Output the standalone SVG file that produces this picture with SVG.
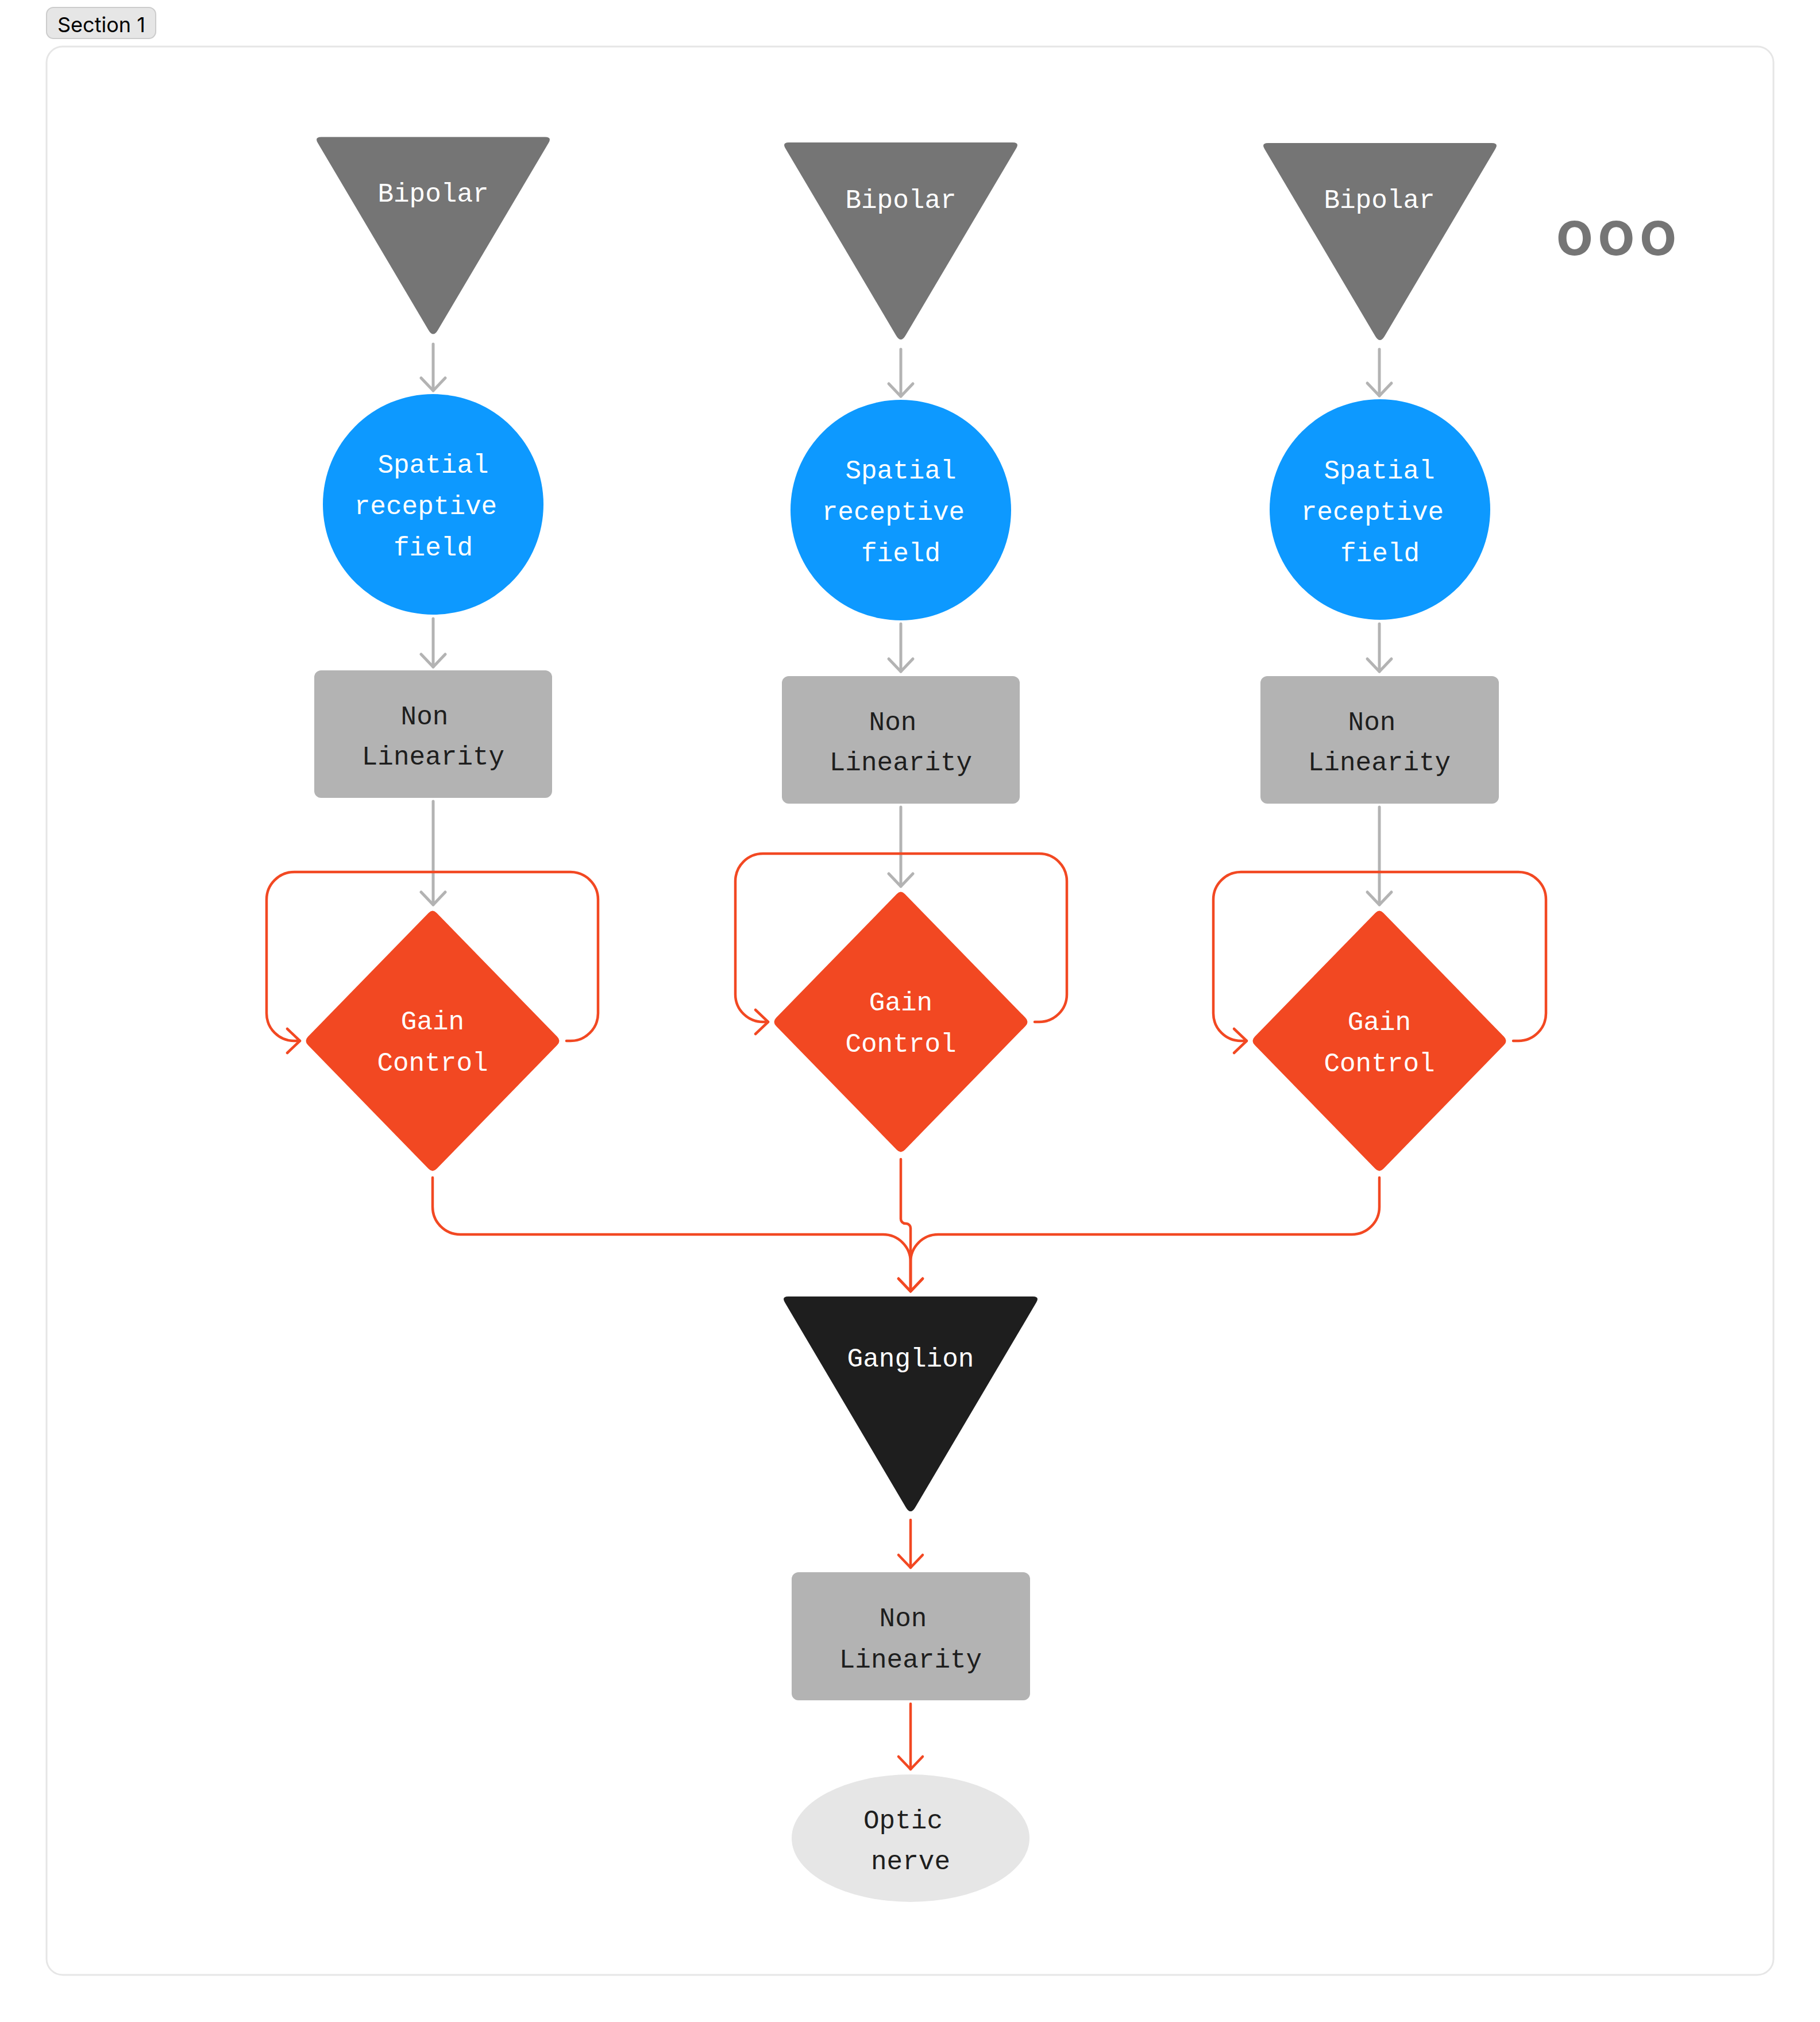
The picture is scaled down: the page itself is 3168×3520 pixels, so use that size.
<svg xmlns="http://www.w3.org/2000/svg" width="3168" height="3520" viewBox="0 0 3168 3520">
<style>
.lbl{font-family:"Liberation Mono","DejaVu Sans Mono",monospace;font-size:46px;text-anchor:middle}
.w{fill:#ffffff}
.d{fill:#1e1e1e}
.gline{fill:none;stroke:#b3b3b3;stroke-width:5;stroke-linecap:round;stroke-linejoin:round}
.rline{fill:none;stroke:#f24822;stroke-width:4.5;stroke-linecap:round;stroke-linejoin:round}
.tri{fill:#757575}
.circ{fill:#0d99ff}
.box{fill:#b3b3b3}
.dia{fill:#f24822}
</style>
<defs>
<path id="triShape" d="M -195,0 H 195 Q 207,0 200.9,10.3 L 8.1,336.2 Q 0,350 -8.1,336.2 L -200.9,10.3 Q -207,0 -195,0 Z"/>
<path id="diaShape" d="M -7,-222.8 Q 0,-230 7,-222.8 L 217,-7.2 Q 224,0 217,7.2 L 7,222.8 Q 0,230 -7,222.8 L -217,7.2 Q -224,0 -217,-7.2 Z"/>
<marker id="ag" markerUnits="userSpaceOnUse" viewBox="-30 -30 60 60" refX="0" refY="0" markerWidth="60" markerHeight="60" orient="auto" overflow="visible">
<path d="M -22,-21 L 0,0 L -22,21" fill="none" stroke="#b3b3b3" stroke-width="5" stroke-linecap="round" stroke-linejoin="round"/>
</marker>
<marker id="ar" markerUnits="userSpaceOnUse" viewBox="-30 -30 60 60" refX="0" refY="0" markerWidth="60" markerHeight="60" orient="auto" overflow="visible">
<path d="M -22,-21 L 0,0 L -22,21" fill="none" stroke="#f24822" stroke-width="4.5" stroke-linecap="round" stroke-linejoin="round"/>
</marker>
</defs>
<rect width="3168" height="3520" fill="#ffffff"/>
<g id="section">
<rect x="81" y="81" width="3006" height="3357" rx="28" fill="#ffffff" stroke="#e6e6e6" stroke-width="3"/>
<rect x="81" y="13" width="190" height="54" rx="12" fill="#e6e6e6" stroke="#cccccc" stroke-width="2"/>
<text x="100" y="56" font-family="Inter,'Liberation Sans',sans-serif" font-size="36" fill="#000000">Section 1</text>
</g>
<g id="connectors">
<path class="gline" d="M754,599 V680" marker-end="url(#ag)"/>
<path class="gline" d="M754,1077 V1161" marker-end="url(#ag)"/>
<path class="gline" d="M754,1395 V1575" marker-end="url(#ag)"/>
<path class="gline" d="M1568,608 V690" marker-end="url(#ag)"/>
<path class="gline" d="M1568,1086 V1169" marker-end="url(#ag)"/>
<path class="gline" d="M1568,1405 V1543" marker-end="url(#ag)"/>
<path class="gline" d="M2401,608 V689" marker-end="url(#ag)"/>
<path class="gline" d="M2401,1086 V1169" marker-end="url(#ag)"/>
<path class="gline" d="M2401,1405 V1575" marker-end="url(#ag)"/>
<path class="rline" d="M986,1812 H993 A48,48 0 0 0 1041,1764 V1566 A48,48 0 0 0 993,1518 H512 A48,48 0 0 0 464,1566 V1764 A48,48 0 0 0 512,1812 H522" marker-end="url(#ar)"/>
<path class="rline" d="M1801,1779 H1809 A48,48 0 0 0 1857,1731 V1534 A48,48 0 0 0 1809,1486 H1328 A48,48 0 0 0 1280,1534 V1731 A48,48 0 0 0 1328,1779 H1337" marker-end="url(#ar)"/>
<path class="rline" d="M2634,1812 H2643 A48,48 0 0 0 2691,1764 V1566 A48,48 0 0 0 2643,1518 H2160 A48,48 0 0 0 2112,1566 V1764 A48,48 0 0 0 2160,1812 H2170" marker-end="url(#ar)"/>
<path class="rline" d="M753,2050 V2101 A48,48 0 0 0 801,2149 H1537 A48,48 0 0 1 1585,2197 V2248" marker-end="url(#ar)"/>
<path class="rline" d="M1568,2018 V2122 A8,8 0 0 0 1576,2130 H1577 A8,8 0 0 1 1585,2138 V2248" marker-end="url(#ar)"/>
<path class="rline" d="M2401,2050 V2101 A48,48 0 0 1 2353,2149 H1633 A48,48 0 0 0 1585,2197 V2248" marker-end="url(#ar)"/>
<path class="rline" d="M1585,2646 V2729" marker-end="url(#ar)"/>
<path class="rline" d="M1585,2966 V3080" marker-end="url(#ar)"/>
</g>
<g id="bipolar1">
<use href="#triShape" class="tri" transform="translate(754,238.5)"/>
<text class="lbl w" x="754" y="351">Bipolar</text>
</g>
<g id="bipolar2">
<use href="#triShape" class="tri" transform="translate(1568,248)"/>
<text class="lbl w" x="1568" y="362">Bipolar</text>
</g>
<g id="bipolar3">
<use href="#triShape" class="tri" transform="translate(2402,249)"/>
<text class="lbl w" x="2401" y="362">Bipolar</text>
</g>
<g id="ellipsis">
<text x="2708" y="444" font-family="Inter,'Liberation Sans',sans-serif" font-weight="600" font-size="108" fill="#757575" textLength="211" lengthAdjust="spacing">ooo</text>
</g>
<g id="spatial1">
<circle class="circ" cx="754" cy="878" r="192"/>
<text class="lbl w" x="754" y="823">Spatial</text>
<text class="lbl w" x="741" y="895">receptive</text>
<text class="lbl w" x="754" y="967">field</text>
</g>
<g id="spatial2">
<circle class="circ" cx="1568" cy="888" r="192"/>
<text class="lbl w" x="1568" y="833">Spatial</text>
<text class="lbl w" x="1555" y="905">receptive</text>
<text class="lbl w" x="1568" y="977">field</text>
</g>
<g id="spatial3">
<circle class="circ" cx="2402" cy="887" r="192"/>
<text class="lbl w" x="2401" y="833">Spatial</text>
<text class="lbl w" x="2389" y="905">receptive</text>
<text class="lbl w" x="2402" y="977">field</text>
</g>
<g id="nonlin1">
<rect class="box" x="547" y="1167" width="414" height="222" rx="12"/>
<text class="lbl d" x="739" y="1261">Non</text>
<text class="lbl d" x="754" y="1331">Linearity</text>
</g>
<g id="nonlin2">
<rect class="box" x="1361" y="1177" width="414" height="222" rx="12"/>
<text class="lbl d" x="1554" y="1271">Non</text>
<text class="lbl d" x="1568" y="1341">Linearity</text>
</g>
<g id="nonlin3">
<rect class="box" x="2194" y="1177" width="415" height="222" rx="12"/>
<text class="lbl d" x="2388" y="1271">Non</text>
<text class="lbl d" x="2401" y="1341">Linearity</text>
</g>
<g id="gain1">
<use href="#diaShape" class="dia" transform="translate(753,1812)"/>
<text class="lbl w" x="753" y="1792">Gain</text>
<text class="lbl w" x="753" y="1864">Control</text>
</g>
<g id="gain2">
<use href="#diaShape" class="dia" transform="translate(1568,1779)"/>
<text class="lbl w" x="1568" y="1759">Gain</text>
<text class="lbl w" x="1568" y="1831">Control</text>
</g>
<g id="gain3">
<use href="#diaShape" class="dia" transform="translate(2401,1812)"/>
<text class="lbl w" x="2401" y="1793">Gain</text>
<text class="lbl w" x="2401" y="1865">Control</text>
</g>
<g id="ganglion">
<path fill="#1e1e1e" transform="translate(1585,2257)" d="M -213,0 H 213 Q 225,0 218.9,10.3 L 8.1,367.2 Q 0,381 -8.1,367.2 L -218.9,10.3 Q -225,0 -213,0 Z"/>
<text class="lbl w" x="1585" y="2379">Ganglion</text>
</g>
<g id="nonlin4">
<rect class="box" x="1378" y="2737" width="415" height="223" rx="12"/>
<text class="lbl d" x="1572" y="2831">Non</text>
<text class="lbl d" x="1585" y="2903">Linearity</text>
</g>
<g id="optic">
<ellipse cx="1585" cy="3200" rx="207" ry="111" fill="#e6e6e6"/>
<text class="lbl d" x="1572" y="3183">Optic</text>
<text class="lbl d" x="1585" y="3254">nerve</text>
</g>
</svg>
